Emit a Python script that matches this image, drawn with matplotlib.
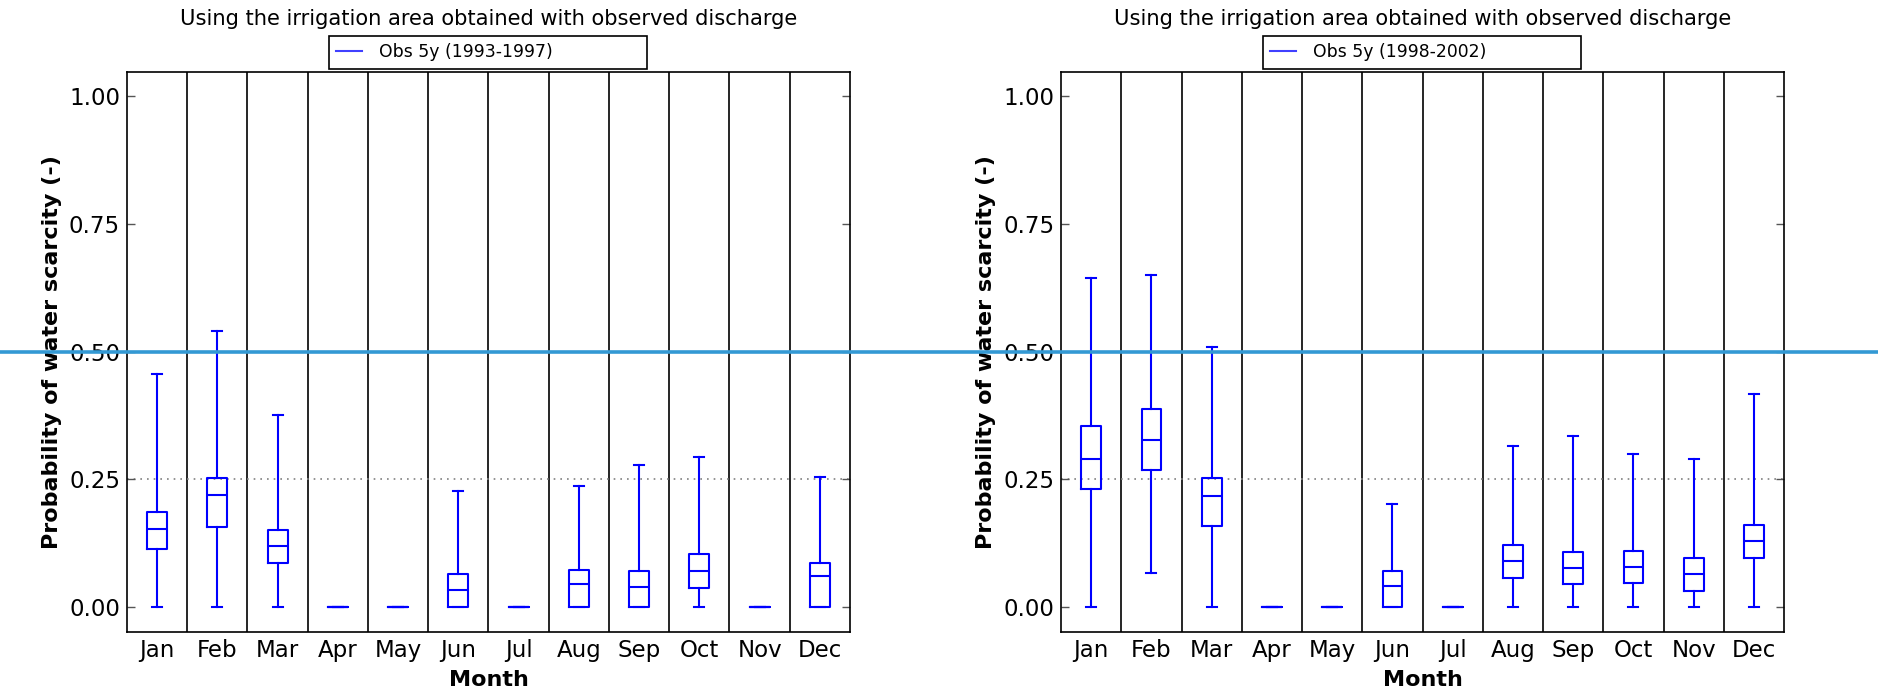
import matplotlib
matplotlib.use("Agg")
import matplotlib.pyplot as plt
from matplotlib.lines import Line2D
from matplotlib.transforms import blended_transform_factory

months = ["Jan", "Feb", "Mar", "Apr", "May", "Jun", "Jul", "Aug", "Sep", "Oct", "Nov", "Dec"]
title = "Using the irrigation area obtained with observed discharge"
labels = ["Obs 5y (1993-1997)", "Obs 5y (1998-2002)"]

# Left panel (1993-1997): whisker low, Q1, median, Q3, whisker high
left_whislo = [0.0, 0.0, 0.0, 0.0, 0.0, 0.0, 0.0, 0.0, 0.0, 0.0, 0.0, 0.0]
left_q1 = [0.115, 0.157, 0.086, 0.0, 0.0, 0.0, 0.0, 0.0, 0.0, 0.038, 0.0, 0.0]
left_med = [0.154, 0.219, 0.120, 0.0, 0.0, 0.035, 0.0, 0.045, 0.040, 0.071, 0.0, 0.062]
left_q3 = [0.186, 0.252, 0.151, 0.0, 0.0, 0.066, 0.0, 0.074, 0.072, 0.104, 0.0, 0.087]
left_whishi = [0.457, 0.540, 0.376, 0.0, 0.0, 0.228, 0.0, 0.237, 0.279, 0.294, 0.0, 0.255]

# Right panel (1998-2002)
right_whislo = [0.0, 0.068, 0.0, 0.0, 0.0, 0.0, 0.0, 0.0, 0.0, 0.0, 0.0, 0.0]
right_q1 = [0.231, 0.268, 0.159, 0.0, 0.0, 0.0, 0.0, 0.058, 0.046, 0.047, 0.032, 0.097]
right_med = [0.290, 0.327, 0.217, 0.0, 0.0, 0.042, 0.0, 0.090, 0.077, 0.079, 0.066, 0.130]
right_q3 = [0.355, 0.388, 0.253, 0.0, 0.0, 0.072, 0.0, 0.122, 0.109, 0.111, 0.097, 0.161]
right_whishi = [0.644, 0.649, 0.508, 0.0, 0.0, 0.202, 0.0, 0.315, 0.334, 0.300, 0.290, 0.417]

yticks = [0.0, 0.25, 0.5, 0.75, 1.0]
ytick_labels = ["0.00", "0.25", "0.50", "0.75", "1.00"]

fig = plt.figure(figsize=(18.78, 6.94), dpi=100)
ax_l = fig.add_axes([0.0676, 0.0893, 0.385, 0.8069])
ax_r = fig.add_axes([0.565, 0.0893, 0.385, 0.8069])

panels = [
    (ax_l, left_whislo, left_q1, left_med, left_q3, left_whishi, labels[0]),
    (ax_r, right_whislo, right_q1, right_med, right_q3, right_whishi, labels[1]),
]

positions = list(range(1, len(months) + 1))
blue = "#0000ff"
for ax, wlo, q1, med, q3, whi, lab in panels:
    stats = []
    for i in range(len(months)):
        stats.append(dict(whislo=wlo[i], q1=q1[i], med=med[i], q3=q3[i], whishi=whi[i], fliers=[]))
    lp = dict(color=blue, linewidth=1.5)
    ax.bxp(stats, positions=positions, widths=0.33, showfliers=False,
           boxprops=lp, medianprops=lp, whiskerprops=lp, capprops=lp, manage_ticks=False)
    for k in range(1, len(months)):
        ax.axvline(k + 0.5, color="black", linewidth=1.2, zorder=1)
    ax.axhline(0.25, color="gray", linestyle=(0, (1, 3)), linewidth=1.2, zorder=1)
    ax.set_xlim(0.5, 12.5)
    ax.set_ylim(-0.048, 1.046)
    ax.set_xticks(positions)
    ax.set_xticklabels(months, fontsize=16.5)
    ax.set_yticks(yticks)
    ax.set_yticklabels(ytick_labels, fontsize=16.5)
    ax.tick_params(axis="x", length=0, pad=5)
    ax.tick_params(axis="y", direction="in", length=6, width=1, left=True, right=True, pad=5, color="#555555")
    for s in ax.spines.values():
        s.set_linewidth(1.2)
    ax.set_xlabel("Month", fontsize=16, fontweight="bold", labelpad=6)
    ax.set_ylabel("Probability of water scarcity (-)", fontsize=16, fontweight="bold", labelpad=5)
    ax.set_title(title, fontsize=15.1, pad=34)
    handle = Line2D([], [], color=blue, linewidth=1.5, alpha=0.75)
    leg = ax.legend([handle], [lab], loc="lower left", bbox_to_anchor=(0.279, 1.006, 0.4405, 0.05),
                    mode="expand", borderaxespad=0, fontsize=12.4, fancybox=False, framealpha=1,
                    edgecolor="black", handlelength=1.5, handletextpad=1.0, borderpad=0.42)
    leg.get_frame().set_linewidth(1.2)

# Threshold line at 0.5 across the whole figure
tr = blended_transform_factory(fig.transFigure, ax_l.transData)
fig.add_artist(Line2D([0, 1], [0.5, 0.5], transform=tr, color="#3399d4", linewidth=2.6, zorder=10))

fig.savefig("out.png", dpi=100)
